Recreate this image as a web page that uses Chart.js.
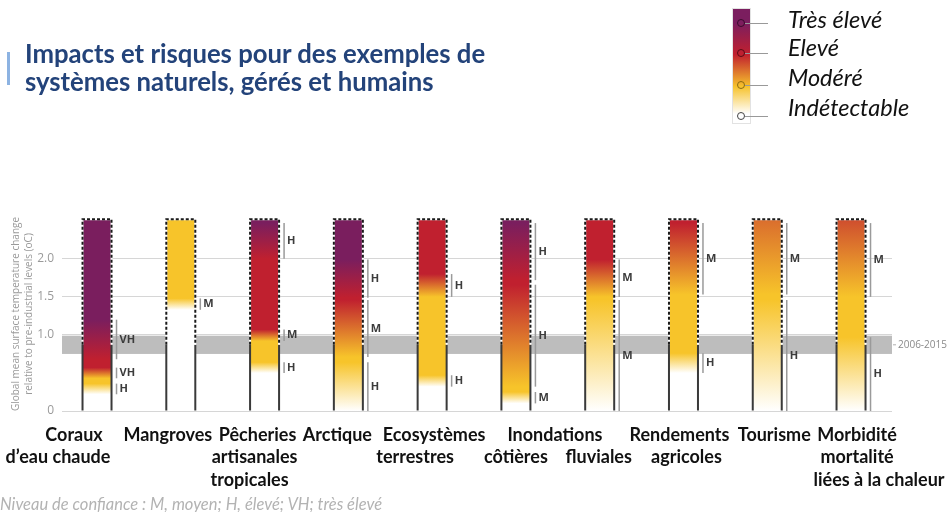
<!DOCTYPE html>
<html lang="fr">
<head>
<meta charset="utf-8">
<title>Impacts et risques</title>
<script src="https://cdn.jsdelivr.net/npm/chart.js@4.4.1/dist/chart.umd.min.js"></script>
<style>
  html, body { margin: 0; padding: 0; background: #fff; }
  #wrap { position: relative; width: 948px; height: 512px; overflow: hidden; font-family: Lato, "Open Sans", sans-serif; }
  #chart { position: absolute; left: 0; top: 0; }
  #accent { position: absolute; left: 7px; top: 52px; width: 3px; height: 33px; background: #8db3e2; }
  #title { position: absolute; left: 25px; top: 39px; font-weight: 700; font-size: 25.7px; line-height: 28px; color: #23437a; }
  #legendBar { position: absolute; left: 732px; top: 8px; width: 17px; height: 114px; border: 1px solid #e2e2e2;
    background: linear-gradient(to bottom, #7b1e5f 0%, #7b1e5f 12%, #c1202e 40%, #f6c22c 68%, #fff 92%); }
  .dot { position: absolute; left: 737px; width: 6px; height: 6px; border: 1px solid #444; border-radius: 50%; }
  .tick { position: absolute; left: 745px; width: 23px; height: 1px; background: #999; }
  .lg { position: absolute; left: 788px; font-style: italic; font-size: 23.5px; line-height: 26px; color: #111; }
  #footer { position: absolute; left: 0; top: 494px; font-style: italic; font-size: 16.5px; color: #b3b3b3; }
</style>
</head>
<body>
<div id="wrap">
  <canvas id="chart" width="948" height="512"></canvas>
  <div id="accent"></div>
  <div id="title">Impacts et risques pour des exemples de<br>systèmes naturels, gérés et humains</div>
  <div id="legendBar"></div>
  <div class="dot" style="top:19px; border-color:#3a0a2c"></div><div class="tick" style="top:23px"></div>
  <div class="dot" style="top:49px; border-color:#5a0a14"></div><div class="tick" style="top:53px"></div>
  <div class="dot" style="top:81px; border-color:#8a6a10"></div><div class="tick" style="top:85px"></div>
  <div class="dot" style="top:112px"></div><div class="tick" style="top:116px"></div>
  <div class="lg" style="top:6px">Très élevé</div>
  <div class="lg" style="top:34px">Elevé</div>
  <div class="lg" style="top:64px">Modéré</div>
  <div class="lg" style="top:94px">Indétectable</div>
  <div id="footer">Niveau de confiance : M, moyen; H, élevé; VH; très élevé</div>
</div>
<script>
// systems shown, one ember each (label lines)
const categories = [
    ["Coraux", "d’eau chaude"], ["Mangroves"], ["Pêcheries", "artisanales", "tropicales"],
    ["Arctique"], ["Ecosystèmes", "terrestres"], ["Inondations", "côtières"], ["", "fluviales"],
    ["Rendements", "agricoles"], ["Tourisme"], ["Morbidité", "mortalité", "liées à la chaleur"]
]
// top of each ember (oC)
const emberTop = [2.52, 2.52, 2.52, 2.52, 2.52, 2.52, 2.52, 2.52, 2.52, 2.52]
// transition ranges (oC): undetectable -> moderate, moderate -> high, high -> very high
// (a range may run past the top of the ember)
const toModerate = [[0.22, 0.36], [1.33, 1.48], [0.5, 0.64], [0.0, 0.64], [0.32, 0.47], [0.1, 0.25], [0.0, 1.46], [0.5, 0.76], [0.0, 1.46], [0.0, 0.97]]
const toHigh = [[0.43, 0.57], null, [0.92, 1.07], [0.71, 1.46], [1.5, 1.8], [0.32, 1.66], [1.5, 1.99], [1.53, 2.47], [1.53, 3.4], [1.5, 2.9]]
const toVeryHigh = [[0.68, 1.2], null, [2.0, 2.47], [1.49, 1.99], null, [1.72, 2.47], null, null, null, null]
// confidence level of each transition
const confModerate = ["H", "M", "H", "H", "H", "M", "M", "H", "H", "H"]
const confHigh = ["VH", null, "M", "M", "H", "H", "M", "M", "M", "M"]
const confVeryHigh = ["VH", null, "H", "H", null, "H", null, null, null, null]
// recent warming 2006-2015
const recentRange = [0.75, 0.99]
const presentWarming = 0.87
const yTickValues = [0, 1.0, 1.5, 2.0]

const levelColors = ["#ffffff", "#f7c42a", "#c0202f", "#7a1e5e"]
// per-line horizontal nudges of the category labels (px)
const labelShift = [[-23, -39], [-13], [-7, -10, -15], [-11], [2, -17], [39, 0], [0, -1], [-4, 3], [7], [6, 6, 28]]

function mix(c1, c2, f) {
    const a = [1, 3, 5].map(p => parseInt(c1.substr(p, 2), 16))
    const b = [1, 3, 5].map(p => parseInt(c2.substr(p, 2), 16))
    return "rgb(" + a.map((v, i) => Math.round(v + (b[i] - v) * f)).join(",") + ")"
}

function emberFill(ctx) {
    const chart = ctx.chart
    const y = chart.scales.y
    if (!chart.chartArea || !y) return "#ffffff"
    const i = ctx.dataIndex
    const top = emberTop[i]
    const g = chart.ctx.createLinearGradient(0, y.getPixelForValue(0), 0, y.getPixelForValue(top))
    let last = levelColors[0]
    g.addColorStop(0, last)
    ;[toModerate, toHigh, toVeryHigh].forEach((arr, k) => {
        const t = arr[i]
        if (!t) return
        g.addColorStop(Math.min(t[0] / top, 1), levelColors[k])
        if (t[1] > top) {
            last = mix(levelColors[k], levelColors[k + 1], (top - t[0]) / (t[1] - t[0]))
            g.addColorStop(1, last)
        } else {
            g.addColorStop(t[1] / top, levelColors[k + 1])
            last = levelColors[k + 1]
        }
    })
    g.addColorStop(1, last)
    return g
}

const emberDecor = {
    id: "emberDecor",
    beforeDatasetsDraw(chart) {
        const { ctx, chartArea: a, scales: { y } } = chart
        const t = y.getPixelForValue(recentRange[1]), b = y.getPixelForValue(recentRange[0])
        ctx.save()
        ctx.fillStyle = "#bdbdbd"
        ctx.fillRect(a.left, t, a.right - a.left, b - t)
        ctx.strokeStyle = "#b0b0b0"
        ctx.lineWidth = 1
        ctx.beginPath()
        ctx.moveTo(a.right + 1, (t + b) / 2)
        ctx.lineTo(a.right + 4, (t + b) / 2)
        ctx.stroke()
        ctx.fillStyle = "#8a8a8a"
        ctx.font = "10px 'Open Sans'"
        ctx.textBaseline = "middle"
        ctx.fillText("2006-2015", a.right + 6, (t + b) / 2)
        ctx.restore()
    },
    afterDatasetsDraw(chart) {
        const { ctx, scales: { y } } = chart
        const yNow = y.getPixelForValue(presentWarming)
        const meta = chart.getDatasetMeta(0)
        meta.data.forEach((bar, i) => {
            const l = bar.x - bar.width / 2, r = bar.x + bar.width / 2
            ctx.save()
            ctx.lineWidth = 2
            ctx.strokeStyle = "#3a3a3a"
            ctx.beginPath()
            ctx.moveTo(l, bar.base); ctx.lineTo(l, yNow)
            ctx.moveTo(r, bar.base); ctx.lineTo(r, yNow)
            ctx.stroke()
            ctx.beginPath()
            ctx.moveTo(l, yNow); ctx.lineTo(l, bar.y); ctx.lineTo(r, bar.y); ctx.lineTo(r, yNow)
            ctx.strokeStyle = "#ffffff"
            ctx.stroke()
            ctx.setLineDash([3, 2])
            ctx.strokeStyle = "#1a1a1a"
            ctx.stroke()
            ctx.restore()

            // confidence brackets
            const confs = [confModerate, confHigh, confVeryHigh]
            ;[toModerate, toHigh, toVeryHigh].forEach((arr, k) => {
                const t = arr[i]
                if (!t) return
                const y0 = y.getPixelForValue(t[0])
                const y1 = y.getPixelForValue(Math.min(t[1], emberTop[i] - 0.05))
                ctx.save()
                ctx.strokeStyle = "#9a9a9a"
                ctx.lineWidth = 1.5
                ctx.beginPath()
                ctx.moveTo(r + 5, y0); ctx.lineTo(r + 5, y1)
                ctx.stroke()
                ctx.fillStyle = "#3c3c3c"
                ctx.font = "bold 11px 'Open Sans'"
                ctx.textBaseline = "middle"
                ctx.fillText(confs[k][i], r + 8, (y0 + y1) / 2)
                ctx.restore()
            })
        })
    },
    afterDraw(chart) {
        const { ctx, scales: { x } } = chart
        ctx.save()
        ctx.fillStyle = "#111"
        ctx.font = "bold 18px Lato"
        ctx.textAlign = "center"
        ctx.textBaseline = "middle"
        categories.forEach((lines, i) => {
            lines.forEach((txt, j) => {
                ctx.fillText(txt, x.getPixelForValue(i) + labelShift[i][j], 435 + j * 22.5)
            })
        })
        ctx.restore()
    }
}

new Chart("chart", {
    type: "bar",
    data: {
        datasets: [{
            data: emberTop.map((top, i) => ({ x: i, y: [0, top] })),
            backgroundColor: emberFill,
            borderWidth: 0,
            barThickness: 29,
            grouped: false
        }]
    },
    options: {
        responsive: false,
        animation: false,
        devicePixelRatio: 1,
        layout: { padding: { top: 217, bottom: 101, left: 0, right: 56 } },
        plugins: { legend: { display: false }, tooltip: { enabled: false } },
        scales: {
            x: { type: "linear", min: -0.418, max: 9.489, offset: false, display: false },
            y: {
                min: 0,
                max: 2.55,
                afterFit: s => { s.width = 62 },
                afterBuildTicks: s => { s.ticks = yTickValues.map(v => ({ value: v })) },
                grid: { color: "#d6d6d6", drawTicks: false },
                border: { display: false },
                ticks: {
                    padding: 8,
                    color: "#9a9a9a",
                    font: { family: "'Open Sans'", size: 12 },
                    callback: v => v === 0 ? "0" : v.toFixed(1)
                },
                title: {
                    display: true,
                    text: ["Global mean surface temperature change", "relative to pre-industrial levels (oC)"],
                    color: "#9a9a9a",
                    font: { family: "'Open Sans'", size: 10, lineHeight: 1.3 },
                    padding: { top: 10, bottom: 0 }
                }
            }
        }
    },
    plugins: [emberDecor]
})
</script>
</body>
</html>
